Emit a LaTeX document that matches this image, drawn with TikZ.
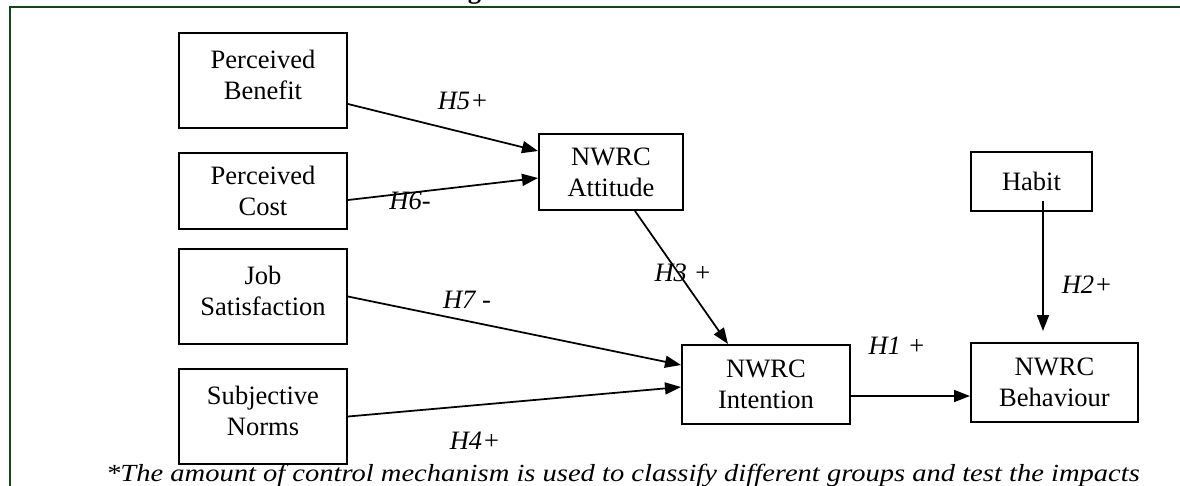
\documentclass[tikz,border=0pt]{standalone}
\usepackage{fontspec}
\setmainfont{Liberation Serif}
\usetikzlibrary{arrows.meta,positioning,calc}
\definecolor{framegreen}{RGB}{22,68,22}

\begin{document}
\begin{tikzpicture}[x=0.2mm,y=-0.2mm,
  varbox/.style={draw,line width=0.4mm,align=center,inner sep=0pt,
    font=\fontsize{15.1}{17.6}\selectfont},
  tallbox/.style={varbox,minimum width=33.6mm,minimum height=19mm,text depth=2.4mm},
  link/.style={-{Triangle[length=3.2mm,width=2.4mm]},line width=0.35mm},
  hyp/.style={font=\fontsize{15.1}{17.6}\selectfont\itshape}]
 \useasboundingbox (0,0) rectangle (1180,485);
 \clip (0,0) rectangle (1180,485);
 % frame and title
 \draw[framegreen,line width=0.45mm] (1185,7)--(10,7)--(10,490);
 \node[anchor=base,font=\fontsize{15.1}{17.6}\selectfont\bfseries] (title) at (592,-2)
  {Figure 1: Research Model};
 % constructs
 \node[tallbox] (benefit) at (263,80.5) {Perceived\\Benefit};
 \node[varbox,minimum width=33.6mm,minimum height=15.2mm] (cost) at (263,191)
  {Perceived\\Cost};
 \node[tallbox] (job) at (263,296.5) {Job\\Satisfaction};
 \node[tallbox] (norms) at (263,416.5) {Subjective\\Norms};
 \node[varbox,minimum width=28.8mm,minimum height=15.2mm] (attitude) at (611,172)
  {NWRC\\Attitude};
 \node[varbox,minimum width=24.2mm,minimum height=11.8mm] (habit) at (1031.5,181.5)
  {Habit};
 \node[varbox,minimum width=33.6mm,minimum height=15.8mm] (intention) at (766,384.5)
  {NWRC\\Intention};
 \node[varbox,minimum width=33.4mm,minimum height=15.8mm] (behaviour) at (1054.5,382.5)
  {NWRC\\Behaviour};
 % paths
 \draw[link] ([yshift=-4.7mm]benefit.east) -- ([yshift=4.2mm]attitude.west);
 \draw[link] ([yshift=-1.8mm]cost.east) -- ([yshift=-1.2mm]attitude.west);
 \draw[link] ([xshift=4.8mm]attitude.south) -- ([xshift=-7.6mm]intention.north);
 \draw[link] (job.east) -- ([yshift=3.9mm]intention.west);
 \draw[link] (norms.east) -- ([yshift=-0.5mm]intention.west);
 \draw[link] ([yshift=-2.3mm]intention.east) -- ([yshift=-2.3mm]intention.east -| behaviour.west);
 \draw[link] ([xshift=2.3mm,yshift=2.2mm]habit.south)
  -- ([xshift=2.3mm,yshift=2.2mm]habit.south |- behaviour.north);
 % hypotheses
 \node[hyp] (h5) at (463,101) {H5+};
 \node[hyp] (h6) at (410,201) {H6-};
 \node[hyp] (h3) at (683,273) {H3 +};
 \node[hyp] (h7) at (467,300) {H7 -};
 \node[hyp] (h4) at (475,441) {H4+};
 \node[hyp] (h1) at (897,346) {H1 +};
 \node[hyp] (h2) at (1087,285) {H2+};
 \node[hyp,font=\fontsize{14}{16}\selectfont\itshape,anchor=base,inner sep=0pt] (note) at (623,481)
  {\scalebox{1.16}[1]{*The amount of control mechanism is used to classify different groups and test the impacts}};
\end{tikzpicture}
\end{document}
